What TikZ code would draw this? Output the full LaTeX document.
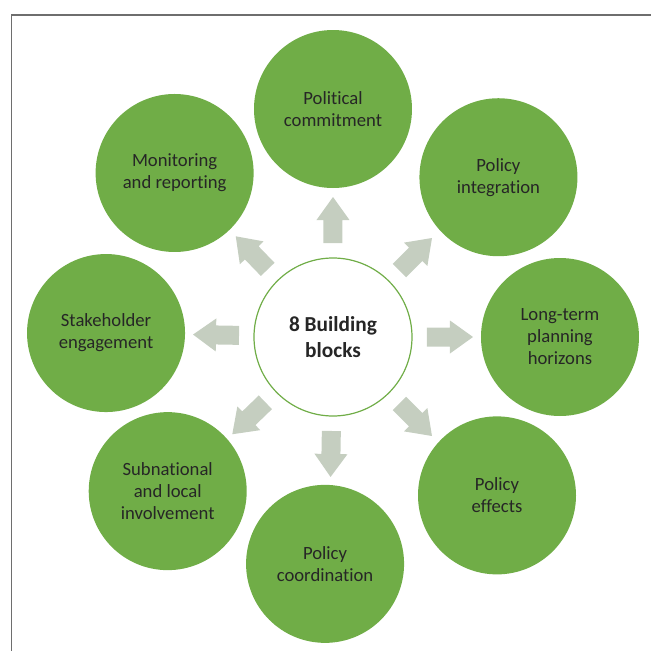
\documentclass[tikz,border=0pt]{standalone}
\usepackage{fontspec}
\setmainfont{Carlito}[Ligatures=NoCommon]
\definecolor{leafgreen}{HTML}{70AD47}
\definecolor{arrowgrey}{HTML}{C5CEC0}
\definecolor{textgrey}{HTML}{262626}
\definecolor{framegrey}{HTML}{6E6E6E}
\tikzset{
  block/.style={circle,fill=leafgreen,minimum size=118.5pt,inner sep=0pt,align=center,
    text=textgrey,font=\fontsize{14}{16.5}\selectfont},
  hub/.style={circle,draw=leafgreen,line width=0.9pt,fill=white,minimum size=118.5pt,
    inner sep=0pt,align=center,text=textgrey,font=\fontsize{16}{19.5}\selectfont\bfseries},
  blockarrow/.pic={\fill[arrowgrey] (-23,-9.5)--(0,-9.5)--(0,-16.5)--(23,0)--(0,16.5)--(0,9.5)--(-23,9.5)--cycle;}
}
\begin{document}
\begin{tikzpicture}[x=0.75pt,y=0.75pt]
\useasboundingbox (-333,-314) rectangle (318,337);
\draw [framegrey,line width=1.1pt] (318,322)--(-321.5,322)--(-321.5,-314);
\node [hub] (core) at (0,0) {8 Building\\blocks};
\node [block] (pol) at (90:228) {Political\\commitment};
\node [block] (integ) at (44:230) {Policy\\integration};
\node [block] (horiz) at (0:227) {Long-term\\planning\\horizons};
\node [block] (effects) at (-44:228) {Policy\\effects};
\node [block] (coord) at (-92:227) {Policy\\coordination};
\node [block] (local) at (223:226) {Subnational\\and local\\involvement};
\node [block] (stake) at (179:227) {Stakeholder\\engagement};
\node [block] (monit) at (134:228) {Monitoring\\and reporting};
% arrows out of the hub
\foreach \a in {90,45,0,-45,-91,224,179,134}
  \pic [rotate=\a] at (\a:117) {blockarrow};
\end{tikzpicture}
\end{document}
